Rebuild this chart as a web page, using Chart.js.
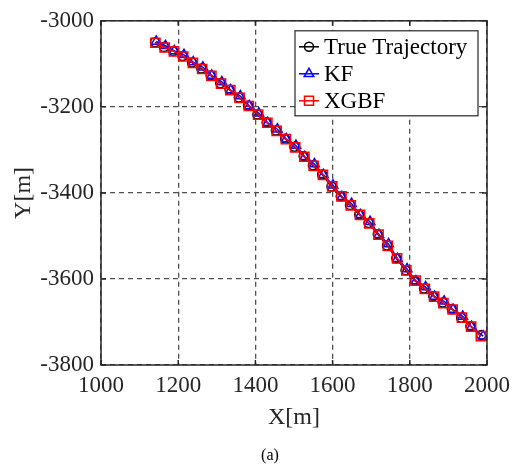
<!DOCTYPE html>
<html>
<head>
<meta charset="utf-8">
<script src="https://cdn.jsdelivr.net/npm/chart.js@4.4.1/dist/chart.umd.min.js"></script>
<style>
	html, body { margin: 0; padding: 0; background: #fff; }
	#wrap { width: 517px; height: 465px; position: relative; }
</style>
</head>
<body>
<div id="wrap"><canvas id="grafico"></canvas></div>
<script>
// eixos
const xTicks = [1000, 1200, 1400, 1600, 1800, 2000];
const yTicks = [-3800, -3600, -3400, -3200, -3000];

// trajetoria verdadeira
const trueX = [1140, 1163, 1187, 1211, 1236, 1260, 1284, 1309, 1333, 1357, 1381, 1405, 1429, 1453, 1477, 1501, 1525, 1549, 1573, 1597, 1621, 1645, 1669, 1693, 1717, 1741, 1765, 1789, 1813, 1837, 1861, 1885, 1909, 1933, 1957, 1985];
const trueY = [-3050, -3061, -3070, -3082, -3097, -3111, -3127, -3145, -3160, -3178, -3197, -3218, -3236, -3255, -3274, -3293, -3315, -3336, -3357, -3385, -3408, -3428, -3450, -3470, -3496, -3522, -3552, -3580, -3604, -3622, -3640, -3655, -3670, -3690, -3710, -3730];

// KF
const kfX = [1143, 1167, 1190, 1215, 1239, 1264, 1287, 1313, 1336, 1361, 1384, 1409, 1432, 1457, 1480, 1505, 1528, 1553, 1576, 1601, 1624, 1649, 1672, 1697, 1720, 1745, 1768, 1793, 1816, 1841, 1864, 1889, 1912, 1937, 1960, 1990];
const kfY = [-3048, -3058, -3070, -3079, -3096, -3108, -3127, -3142, -3161, -3175, -3198, -3215, -3237, -3252, -3275, -3290, -3316, -3333, -3358, -3382, -3409, -3425, -3451, -3467, -3497, -3519, -3553, -3577, -3605, -3619, -3641, -3652, -3671, -3687, -3711, -3733];

// XGBF
const xgbfX = [1141, 1165, 1189, 1213, 1238, 1262, 1286, 1311, 1335, 1359, 1383, 1407, 1431, 1455, 1479, 1503, 1527, 1551, 1575, 1599, 1623, 1647, 1671, 1695, 1719, 1743, 1767, 1791, 1815, 1839, 1863, 1887, 1911, 1935, 1959, 1984];
const xgbfY = [-3051, -3062, -3071, -3083, -3098, -3112, -3128, -3146, -3161, -3179, -3198, -3218, -3237, -3256, -3275, -3294, -3316, -3337, -3358, -3385, -3408, -3429, -3451, -3471, -3497, -3523, -3552, -3580, -3604, -3623, -3641, -3656, -3671, -3690, -3711, -3733];

const legendas = [
	{ nome: "True Trajectory", cor: "#000000", forma: "circle" },
	{ nome: "KF", cor: "#0000ff", forma: "triangle" },
	{ nome: "XGBF", cor: "#ff0000", forma: "rect" }
];

const fonte = "'Liberation Serif', 'Times New Roman', serif";
const corEixo = "#262626";

function pontos(xs, ys) {
	return xs.map((x, i) => ({ x: x, y: ys[i] }));
}

function desenhaMarca(ctx, forma, x, y) {
	ctx.beginPath();
	if (forma === "circle") {
		ctx.arc(x, y, 4.5, 0, Math.PI * 2);
	} else if (forma === "triangle") {
		ctx.moveTo(x, y - 5.5);
		ctx.lineTo(x + 4.8, y + 2.8);
		ctx.lineTo(x - 4.8, y + 2.8);
		ctx.closePath();
	} else {
		ctx.rect(x - 4.5, y - 4.5, 9, 9);
	}
	ctx.stroke();
}

const moldura = {
	id: 'moldura',
	afterDraw(chart) {
		const ctx = chart.ctx;
		const a = chart.chartArea;
		const sx = chart.scales.x;
		const sy = chart.scales.y;
		ctx.save();
		ctx.strokeStyle = corEixo;
		ctx.lineWidth = 1.5;
		ctx.setLineDash([]);
		ctx.beginPath();
		sx.ticks.forEach(t => {
			const p = sx.getPixelForValue(t.value);
			ctx.moveTo(p, a.bottom); ctx.lineTo(p, a.bottom - 5);
			ctx.moveTo(p, a.top); ctx.lineTo(p, a.top + 5);
		});
		sy.ticks.forEach(t => {
			const p = sy.getPixelForValue(t.value);
			ctx.moveTo(a.left, p); ctx.lineTo(a.left + 5, p);
			ctx.moveTo(a.right, p); ctx.lineTo(a.right - 5, p);
		});
		ctx.stroke();
		ctx.strokeRect(a.left, a.top, a.width, a.height);

		// legenda dentro do grafico
		const lx = a.right - 192, ly = a.top + 10, lw = 183, lh = 85;
		ctx.fillStyle = "#ffffff";
		ctx.fillRect(lx, ly, lw, lh);
		ctx.lineWidth = 1.2;
		ctx.strokeRect(lx, ly, lw, lh);
		ctx.font = "23px " + fonte;
		ctx.textBaseline = "middle";
		ctx.textAlign = "left";
		legendas.forEach((l, i) => {
			const yy = ly + 16 + i * 27;
			ctx.strokeStyle = l.cor;
			ctx.lineWidth = 1.5;
			ctx.beginPath();
			ctx.moveTo(lx + 4, yy); ctx.lineTo(lx + 24, yy);
			ctx.stroke();
			desenhaMarca(ctx, l.forma, lx + 14, yy);
			ctx.fillStyle = "#000000";
			ctx.fillText(l.nome, lx + 29, yy + 1);
		});

		ctx.font = "16px " + fonte;
		ctx.textAlign = "center";
		ctx.fillStyle = "#000000";
		ctx.fillText("(a)", 270, 456);
		ctx.restore();
	}
};

function serie(nome, xs, ys, cor, forma, raio, ordem) {
	return {
		label: nome,
		data: pontos(xs, ys),
		showLine: true,
		borderColor: cor,
		borderWidth: 1.5,
		backgroundColor: "rgba(0,0,0,0)",
		pointStyle: forma,
		pointRadius: raio,
		pointBorderColor: cor,
		pointBorderWidth: 1.5,
		pointBackgroundColor: "rgba(0,0,0,0)",
		pointHoverRadius: raio,
		order: ordem
	};
}

new Chart(document.getElementById("grafico").getContext("2d"), {
	type: "scatter",
	data: {
		datasets: [
			serie("True Trajectory", trueX, trueY, "#000000", "circle", 4.5, 3),
			serie("KF", kfX, kfY, "#0000ff", "triangle", 5.5, 2),
			serie("XGBF", xgbfX, xgbfY, "#ff0000", "rect", 6.5, 1)
		]
	},
	options: {
		responsive: true,
		maintainAspectRatio: false,
		animation: false,
		devicePixelRatio: 1,
		layout: { padding: { top: 15, right: 26, left: 0, bottom: 0 } },
		plugins: {
			legend: { display: false },
			tooltip: { enabled: false }
		},
		scales: {
			x: {
				type: "linear",
				min: xTicks[0],
				max: xTicks[xTicks.length - 1],
				afterBuildTicks: s => { s.ticks = xTicks.map(v => ({ value: v })); },
				afterFit: s => { s.height = 100; },
				ticks: {
					padding: 7,
					color: corEixo,
					font: { family: fonte, size: 23 },
					maxRotation: 0,
					callback: v => String(v)
				},
				grid: { color: "#505050", lineWidth: 1.3, drawTicks: false },
				border: { display: false, dash: [5, 4] },
				title: {
					display: true,
					text: "X[m]",
					color: corEixo,
					font: { family: fonte, size: 24 },
					padding: { top: 0, bottom: 33 }
				}
			},
			y: {
				type: "linear",
				min: yTicks[0],
				max: yTicks[yTicks.length - 1],
				afterBuildTicks: s => { s.ticks = yTicks.map(v => ({ value: v })); },
				afterFit: s => { s.width = 101; },
				ticks: {
					padding: 7,
					color: corEixo,
					font: { family: fonte, size: 23 },
					callback: v => String(v)
				},
				grid: { color: "#505050", lineWidth: 1.3, drawTicks: false },
				border: { display: false, dash: [5, 4] },
				title: {
					display: true,
					text: "Y[m]",
					color: corEixo,
					font: { family: fonte, size: 24 },
					padding: { top: 9, bottom: 0 }
				}
			}
		}
	},
	plugins: [moldura]
});
</script>
</body>
</html>
